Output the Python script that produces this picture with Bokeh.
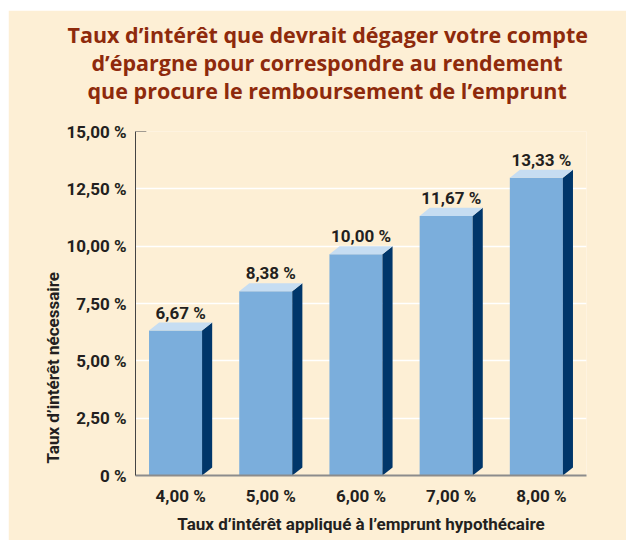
from bokeh.plotting import figure
from bokeh.models import Title, FixedTicker
from bokeh.core.properties import value
from bokeh.embed import file_html
from bokeh.resources import INLINE

# ---- data ----
categories = ["4,00 %", "5,00 %", "6,00 %", "7,00 %", "8,00 %"]
rates = [6.67, 8.38, 10.00, 11.67, 13.33]
rate_labels = ["6,67 %", "8,38 %", "10,00 %", "11,67 %", "13,33 %"]
y_ticks = [0, 2.5, 5, 7.5, 10, 12.5, 15]
y_tick_labels = ["0 %", "2,50 %", "5,00 %", "7,50 %", "10,00 %", "12,50 %", "15,00 %"]
title_lines = [
    "Taux d’intérêt que devrait dégager votre compte",
    "d’épargne pour correspondre au rendement",
    "que procure le remboursement de l’emprunt",
]
x_title = "Taux d’intérêt appliqué à l’emprunt hypothécaire"
y_title = "Taux d’intérêt nécessaire"

# ---- style ----
FONT = "Roboto"
TITLE_FONT = "Open Sans"
CREAM = "#FDEFD5"
DARK = "#231F20"
TITLE_COL = "#8E2A0C"
FRONT = "#7BAEDC"
SIDE = "#00366A"
TOP = "#C6DDF2"

xs = list(range(1, len(categories) + 1))

p = figure(width=618, height=530, x_range=(0.5, len(categories) + 0.5),
           y_range=(0, 15), output_backend="svg", toolbar_location=None,
           min_border_left=127, min_border_right=40, min_border_top=121,
           min_border_bottom=65)
p.margin = (10, 0, 0, 8)
p.background_fill_color = CREAM
p.border_fill_color = CREAM
p.outline_line_color = None

# grid
p.xgrid.visible = False
p.ygrid.ticker = FixedTicker(ticks=y_ticks[1:-1])
p.ygrid.grid_line_color = "white"
p.ygrid.grid_line_width = 1.5

# 3D bars
half = 0.35      # half of total bar width (front + side), x units
side_w = 0.112   # depth in x units
depth = 0.35     # depth in y units
front_l = [x - half for x in xs]
front_r = [x + half - side_w for x in xs]
front_top = [v - depth for v in rates]

p.quad(left=front_l, right=front_r, bottom=0, top=front_top,
       fill_color=FRONT, line_color=None)
side_xs = [[r, r + side_w, r + side_w, r] for r in front_r]
side_ys = [[0, depth, v, v - depth] for v in rates]
p.patches(side_xs, side_ys, fill_color=SIDE, line_color=None)
top_xs = [[l, r, r + side_w, l + side_w] for l, r in zip(front_l, front_r)]
top_ys = [[v - depth, v - depth, v, v] for v in rates]
p.patches(top_xs, top_ys, fill_color=TOP, line_color=None)

# value labels
p.text(x=xs, y=rates, text=rate_labels, y_offset=-10,
       text_align="center", text_baseline="alphabetic",
       text_font=value(FONT), text_font_size="17px", text_font_style="bold",
       text_color=DARK)

# small tick at top of y axis
p.segment(x0=[0.5], y0=[y_ticks[-1]], x1=[0.5 + 0.12], y1=[y_ticks[-1]],
          line_color="#444444", line_width=1)

# axes
xa = p.xaxis[0]
xa.ticker = FixedTicker(ticks=xs)
xa.major_label_overrides = {x: c for x, c in zip(xs, categories)}
xa.major_tick_out = 0
xa.major_tick_in = 0
xa.minor_tick_out = 0
xa.minor_tick_in = 0
xa.axis_line_color = "#8C8C8C"
xa.axis_line_width = 2
xa.major_label_standoff = 10
xa.major_label_text_font = FONT
xa.major_label_text_font_size = "17px"
xa.major_label_text_font_style = "bold"
xa.major_label_text_color = DARK
xa.axis_label = x_title
xa.axis_label_standoff = 5
xa.axis_label_text_font = FONT
xa.axis_label_text_font_size = "17px"
xa.axis_label_text_font_style = "bold"
xa.axis_label_text_color = DARK

ya = p.yaxis[0]
ya.ticker = FixedTicker(ticks=y_ticks)
ya.major_label_overrides = {t: l for t, l in zip(y_ticks, y_tick_labels)}
ya.major_tick_out = 0
ya.major_tick_in = 0
ya.minor_tick_out = 0
ya.minor_tick_in = 0
ya.axis_line_color = "#444444"
ya.axis_line_width = 1
ya.major_label_standoff = 9
ya.major_label_text_font = FONT
ya.major_label_text_font_size = "17px"
ya.major_label_text_font_style = "bold"
ya.major_label_text_color = DARK

# y axis title (left panel, anchored near the bottom of the frame)
p.add_layout(Title(text=y_title, align="left", offset=12, standoff=2,
                   text_font=FONT, text_font_size="17px", text_font_style="bold",
                   text_color=DARK), "left")

# chart title: spacer first (nearest the frame), then the lines bottom-up
p.add_layout(Title(text=" ", standoff=12, text_font=TITLE_FONT,
                   text_font_size="10px"), "above")
title_offsets = [-68, -44, -48]
for line, off in zip(reversed(title_lines), reversed(title_offsets)):
    p.add_layout(Title(text=line, align="left", offset=off, standoff=-3,
                       text_font=TITLE_FONT, text_font_size="21.5px",
                       text_font_style="bold", text_color=TITLE_COL), "above")

open("out.html", "w").write(file_html(p, INLINE))
